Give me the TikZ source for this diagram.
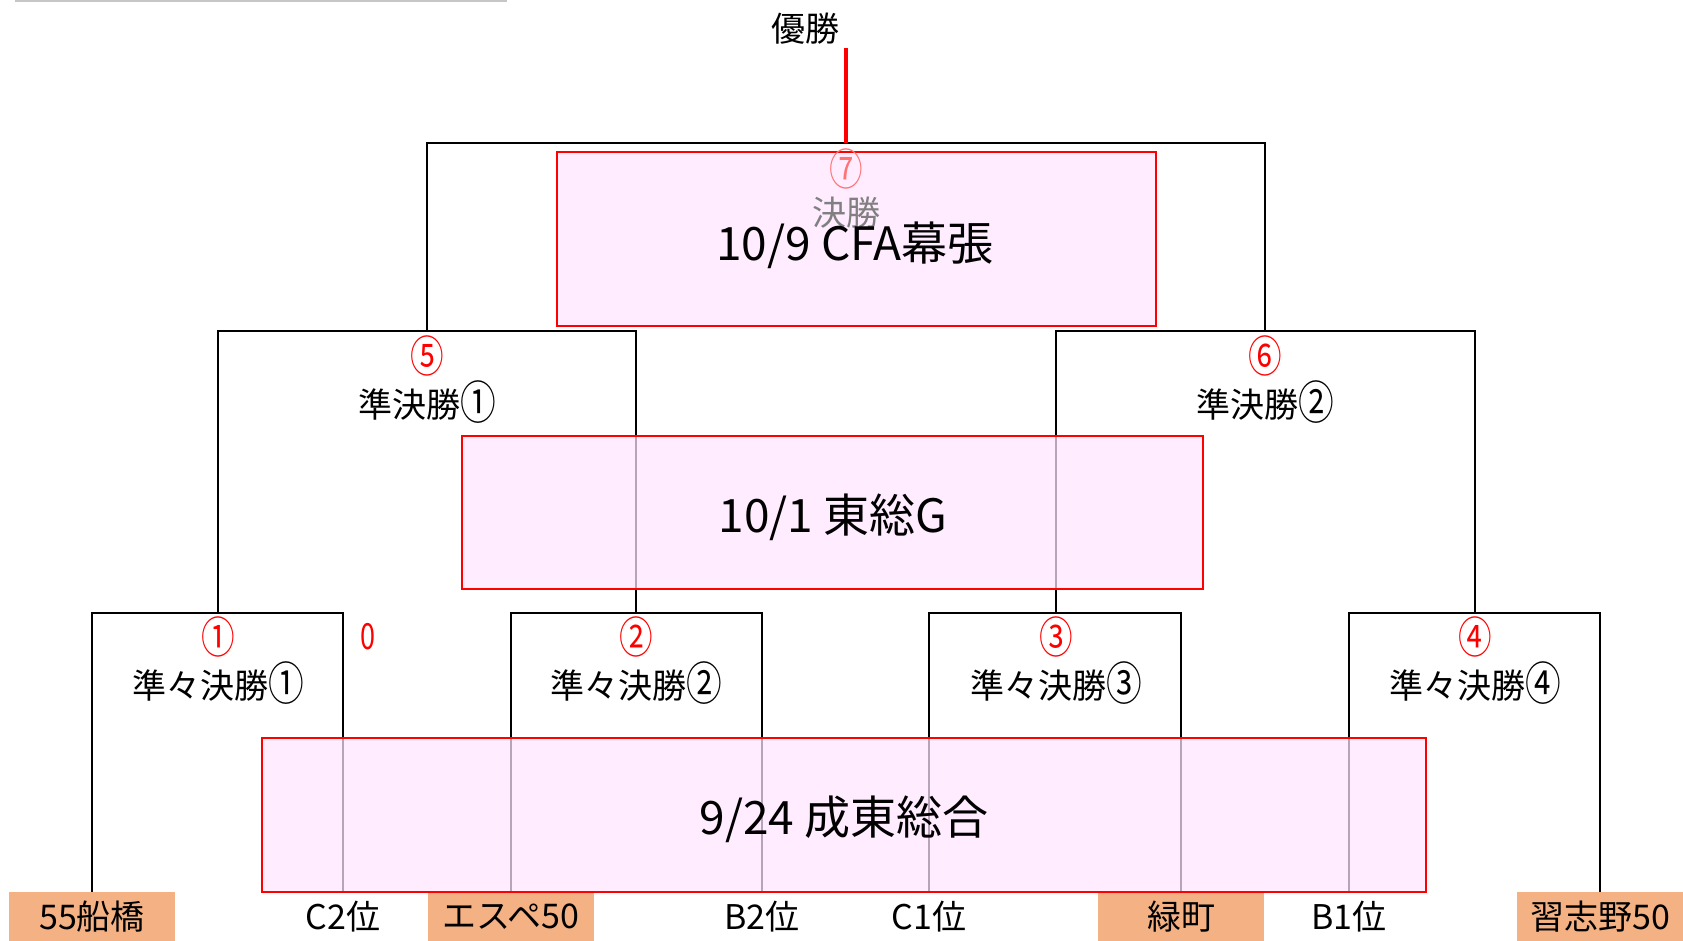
\documentclass[tikz,border=0pt]{standalone}
\usepackage{fontspec}
\setmainfont{Noto Sans CJK JP}
\definecolor{boxpink}{RGB}{255,228,255}
\definecolor{teamorange}{RGB}{244,177,131}
\newcommand{\circnum}[1]{\scalebox{1.12}[1.45]{#1}}
\newcommand{\circlbl}[1]{\raisebox{-0.05em}{\scalebox{1.05}[1.35]{#1}}}
\begin{document}
\begin{tikzpicture}[x=1pt,y=-1pt,
  bline/.style={line width=1.9pt, black},
  venue/.style={draw=red, line width=2.3pt, fill=boxpink, fill opacity=0.72, inner sep=0},
  vtext/.style={font=\fontsize{46}{50}\selectfont, inner sep=0},
  team/.style={anchor=north, minimum width=166, minimum height=49, inner sep=0, font=\fontsize{34}{38}\selectfont},
  teamfill/.style={team, fill=teamorange},
  num/.style={text=red, font=\fontsize{30}{34}\selectfont, inner sep=0},
  lbl/.style={font=\fontsize{34}{38}\selectfont, inner sep=0}]
\useasboundingbox (0,0) rectangle (1683,941);
\draw[gray!45, line width=1.5pt] (15,1) -- (507,1);

% teams
\node[teamfill] (t1) at (92,892) {55船橋};
\node[team] (t2) at (343,892) {C2位};
\node[teamfill] (t3) at (511,892) {エスペ50};
\node[team] (t4) at (762,892) {B2位};
\node[team] (t5) at (929,892) {C1位};
\node[teamfill] (t6) at (1181,892) {緑町};
\node[team] (t7) at (1349,892) {B1位};
\node[teamfill] (t8) at (1600,892) {習志野50};

% bracket points
\coordinate (q1) at (218,613);
\coordinate (q2) at (636,613);
\coordinate (q3) at (1056,613);
\coordinate (q4) at (1475,613);
\coordinate (s1) at (427,331);
\coordinate (s2) at (1265,331);
\coordinate (f) at (846,143);

\draw[bline] (t1.north) |- (q1) -| (t2.north);
\draw[bline] (t3.north) |- (q2) -| (t4.north);
\draw[bline] (t5.north) |- (q3) -| (t6.north);
\draw[bline] (t7.north) |- (q4) -| (t8.north);
\draw[bline] (q1) |- (s1) -| (q2);
\draw[bline] (q3) |- (s2) -| (q4);
\draw[bline] (s1) |- (f) -| (s2);

\node[lbl] (win) at (805,29) {優勝};
\coordinate (wtop) at (846,48);
\draw[red, line width=3.2pt] (f) -- (wtop);

% venues
\node[venue, minimum width=599, minimum height=174] (vf) at (856.5,239) {};
\node[venue, minimum width=741, minimum height=153] (vs) at (832.5,512.5) {};
\node[venue, minimum width=1164, minimum height=154] (vq) at (844,815) {};

% final labels
\node[num, text=red!55] (n7) at (846,169) {\circnum{⑦}};
\node[lbl, text=black!50] (fl) at (846,213) {決勝};
\node[vtext] (vft) at (855,245) {10/9 CFA幕張};
\node[vtext] (vst) at (833,517) {10/1 東総G};
\node[vtext] (vqt) at (844,819) {9/24 成東総合};

% semifinal labels
\node[num] (n5) at (427,356) {\circnum{⑤}};
\node[lbl] (sf1) at (427,402) {準決勝\circlbl{①}};
\node[num] (n6) at (1265,356) {\circnum{⑥}};
\node[lbl] (sf2) at (1265,402) {準決勝\circlbl{②}};

% quarterfinal labels
\node[num] (n1) at (218,637) {\circnum{①}};
\node[lbl] (qf1) at (218,683) {準々決勝\circlbl{①}};
\node[num] (n0) at (368,637) {\scalebox{0.9}[1.2]{0}};
\node[num] (n2) at (636,637) {\circnum{②}};
\node[lbl] (qf2) at (636,683) {準々決勝\circlbl{②}};
\node[num] (n3) at (1056,637) {\circnum{③}};
\node[lbl] (qf3) at (1056,683) {準々決勝\circlbl{③}};
\node[num] (n4) at (1475,637) {\circnum{④}};
\node[lbl] (qf4) at (1475,683) {準々決勝\circlbl{④}};
\end{tikzpicture}
\end{document}
